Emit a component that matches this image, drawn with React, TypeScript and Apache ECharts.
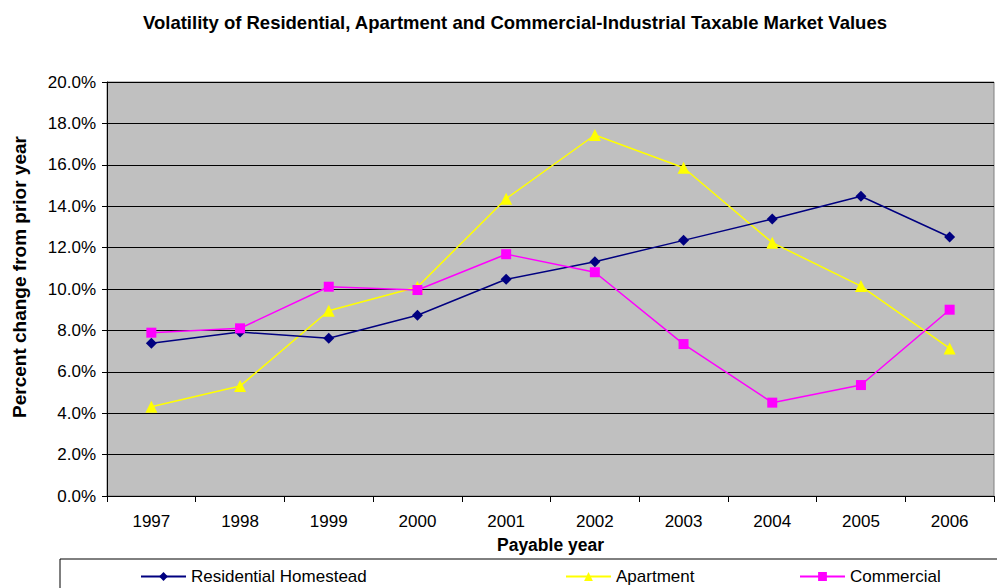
import React, { useEffect, useRef } from "react";
import * as echarts from "echarts";

const years = ["1997", "1998", "1999", "2000", "2001", "2002", "2003", "2004", "2005", "2006"];
const residential = [7.38, 7.92, 7.62, 8.73, 10.47, 11.32, 12.35, 13.38, 14.48, 12.51];
const apartment = [4.31, 5.31, 8.95, 10.1, 14.36, 17.44, 15.86, 12.24, 10.14, 7.13];
const commercial = [7.89, 8.1, 10.11, 9.95, 11.68, 10.81, 7.34, 4.51, 5.36, 9.0];

const FONT = "Liberation Sans, Arial, sans-serif";

export default function App() {
  const ref = useRef<HTMLDivElement>(null);
  useEffect(() => {
    const chart = echarts.init(ref.current!, undefined, { renderer: "svg" });
    const legendText = { fontFamily: FONT, fontSize: 17, color: "#000" };
    chart.setOption({
      animation: false,
      backgroundColor: "#fff",
      title: {
        text: "Volatility of Residential, Apartment and Commercial-Industrial Taxable Market Values",
        left: 510,
        textAlign: "center",
        top: 8,
        textStyle: { fontFamily: FONT, fontSize: 18.5, fontWeight: "bold", color: "#000" },
      },
      graphic: [
        {
          type: "rect",
          shape: { x: 60, y: 559, width: 945, height: 40 },
          style: { fill: "#fff", stroke: "#000", lineWidth: 1 },
          z: -1,
        },
        {
          type: "text",
          x: 19,
          y: 277,
          rotation: Math.PI / 2,
          style: {
            text: "Percent change from prior year",
            font: "bold 19px Liberation Sans, Arial, sans-serif",
            fill: "#000",
            align: "center",
            verticalAlign: "middle",
          },
        },
      ],
      legend: [
        {
          data: ["Residential Homestead"],
          left: 135,
          top: 563,
          itemWidth: 45,
          itemHeight: 11,
          itemGap: 5,
          textStyle: legendText,
        },
        {
          data: ["Apartment"],
          left: 560,
          top: 563,
          itemWidth: 45,
          itemHeight: 11,
          textStyle: legendText,
        },
        {
          data: ["Commercial"],
          left: 794,
          top: 563,
          itemWidth: 45,
          itemHeight: 11,
          textStyle: legendText,
        },
      ],
      grid: {
        left: 107,
        right: 3,
        top: 82,
        bottom: 92,
        show: true,
        backgroundColor: "#C0C0C0",
        borderColor: "#808080",
        borderWidth: 1,
      },
      xAxis: {
        type: "category",
        data: years,
        boundaryGap: true,
        name: "Payable year",
        nameLocation: "middle",
        nameGap: 40,
        nameTextStyle: { fontFamily: FONT, fontSize: 17.5, fontWeight: "bold", color: "#000" },
        axisLine: { lineStyle: { color: "#000", width: 1 } },
        axisTick: { show: true, length: 6, lineStyle: { color: "#000" } },
        axisLabel: { fontFamily: FONT, fontSize: 17, color: "#000", margin: 17 },
        splitLine: { show: false },
      },
      yAxis: {
        type: "value",
        min: 0,
        max: 20,
        interval: 2,
        axisLine: { show: true, lineStyle: { color: "#000", width: 1 } },
        axisTick: { show: true, length: 5, lineStyle: { color: "#000" } },
        axisLabel: {
          fontFamily: FONT,
          fontSize: 17,
          color: "#000",
          margin: 11,
          formatter: (v: number) => v.toFixed(1) + "%",
        },
        splitLine: { show: true, lineStyle: { color: "#000", width: 1 } },
      },
      series: [
        {
          name: "Residential Homestead",
          type: "line",
          data: residential,
          symbol: "diamond",
          symbolSize: 11,
          color: "#000080",
          lineStyle: { width: 1.5, color: "#000080" },
          itemStyle: { color: "#000080" },
          z: 3,
        },
        {
          name: "Apartment",
          type: "line",
          data: apartment,
          symbol: "triangle",
          symbolSize: 12,
          color: "#FFFF00",
          lineStyle: { width: 1.5, color: "#FFFF00" },
          itemStyle: { color: "#FFFF00" },
          z: 2,
        },
        {
          name: "Commercial",
          type: "line",
          data: commercial,
          symbol: "rect",
          symbolSize: 10,
          color: "#FF00FF",
          lineStyle: { width: 1.5, color: "#FF00FF" },
          itemStyle: { color: "#FF00FF" },
          z: 4,
        },
      ],
    });
    return () => chart.dispose();
  }, []);
  return <div ref={ref} style={{ width: 997, height: 588, position: "absolute", left: 0, top: 0 }} />;
}
